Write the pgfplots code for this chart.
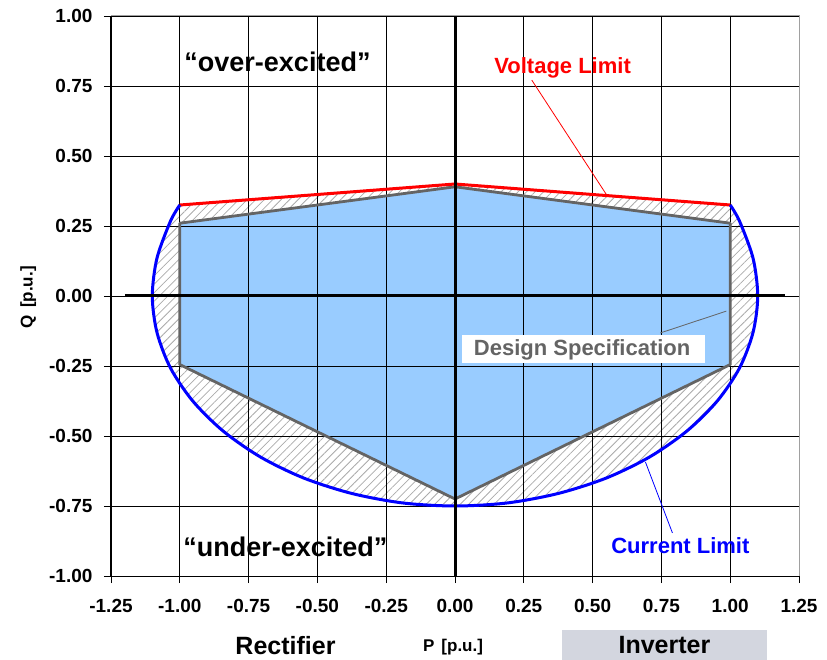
\documentclass[border=0pt]{standalone}
\usepackage{pgfplots}
\pgfplotsset{compat=1.18}
\usepackage{fontspec}
\setmainfont{Liberation Sans}
\usetikzlibrary{patterns.meta}
\definecolor{specfill}{HTML}{99CCFF}
\definecolor{specedge}{HTML}{646464}
\definecolor{hatchgray}{HTML}{AAAAAA}
\definecolor{invbox}{HTML}{D3D6DF}
\definecolor{limred}{HTML}{FF0000}
\definecolor{limblue}{HTML}{0000FF}
\definecolor{framegray}{HTML}{A0A0A0}

\begin{document}
\begin{tikzpicture}
\begin{axis}[
  at={(0,0)}, anchor=south west,
  set layers,
  scale only axis, width=688pt, height=560pt,
  xmin=-1.25, xmax=1.25, ymin=-1, ymax=1,
  axis x line=bottom, axis y line=left,
  axis line style={-, black, line width=1pt},
  xtick={-1.25,-1,-0.75,-0.5,-0.25,0,0.25,0.5,0.75,1,1.25},
  ytick={-1,-0.75,-0.5,-0.25,0,0.25,0.5,0.75,1},
  grid=major, major grid style={black, line width=0.9pt},
  tick align=outside, major tick length=7pt,
  tick style={black, line width=0.9pt},
  clip=false,
  ticklabel style={font=\fontsize{19}{19}\selectfont\bfseries},
  xticklabel style={yshift=-13pt},
  yticklabel style={xshift=-8pt},
  /pgf/number format/fixed, /pgf/number format/fixed zerofill,
  /pgf/number format/precision=2, /pgf/number format/assume math mode=true,
]

% hatched band between the limits and the design specification
\addplot[on layer=axis background, draw=none,
  pattern={Lines[angle=45,distance=6pt,line width=0.8pt]}, pattern color=hatchgray]
  coordinates {(-1,0.325) (0,0.40) (1,0.325) (1.034,0.267) (1.083,0.135) (1.1,0)
  (1.083,-0.130) (1.034,-0.257) (0.953,-0.375) (0.843,-0.482) (0.707,-0.575)
  (0.550,-0.650) (0.376,-0.705) (0.191,-0.739) (0,-0.75) (-0.191,-0.739)
  (-0.376,-0.705) (-0.550,-0.650) (-0.707,-0.575) (-0.843,-0.482) (-0.953,-0.375)
  (-1.034,-0.257) (-1.083,-0.130) (-1.1,0) (-1.083,0.135) (-1.034,0.267)} -- cycle;

% design specification area
\addplot[on layer=axis background, fill=specfill, draw=none]
  coordinates {(-1,0.26) (0,0.39) (1,0.26) (1,-0.245) (0,-0.725) (-1,-0.245)} -- cycle;
\addplot[specedge, line width=2.8pt, line join=round]
  coordinates {(-1,0.26) (0,0.39) (1,0.26) (1,-0.245) (0,-0.725) (-1,-0.245)} -- cycle;

% voltage limit
\addplot[limred, line width=3pt, line join=round]
  coordinates {(-1,0.325) (0,0.40) (1,0.325)};

% current limit
\addplot[limblue, line width=3pt, smooth, line join=round]
  coordinates {(1,0.325) (1.034,0.267) (1.083,0.135) (1.1,0)
  (1.083,-0.130) (1.034,-0.257) (0.953,-0.375) (0.843,-0.482) (0.707,-0.575)
  (0.550,-0.650) (0.376,-0.705) (0.191,-0.739) (0,-0.75) (-0.191,-0.739)
  (-0.376,-0.705) (-0.550,-0.650) (-0.707,-0.575) (-0.843,-0.482) (-0.953,-0.375)
  (-1.034,-0.257) (-1.083,-0.130) (-1.1,0) (-1.083,0.135) (-1.034,0.267) (-1,0.325)};

% frame on top and right
\draw[framegray, line width=1pt] (axis cs:-1.25,1) -- (axis cs:1.25,1) -- (axis cs:1.25,-1);

% P and Q axes through the origin
\draw[black, line width=3pt] (axis cs:-1.2,0) -- (axis cs:1.2,0);
\draw[black, line width=3pt] (axis cs:0,-1) -- (axis cs:0,1);

% annotations
\node[anchor=base, font=\fontsize{27}{27}\selectfont\bfseries] at (axis cs:-0.645,0.80) {“over-excited”};
\node[anchor=base, font=\fontsize{27}{27}\selectfont\bfseries] at (axis cs:-0.616,-0.932) {“under-excited”};

\draw[limred, line width=0.8pt] (axis cs:0.279,0.771) -- (axis cs:0.551,0.361);
\node[anchor=base, text=limred, font=\fontsize{22}{22}\selectfont\bfseries] at (axis cs:0.391,0.796) {Voltage Limit};

\draw[specedge, line width=0.8pt] (axis cs:0.746,-0.132) -- (axis cs:0.986,-0.054);
\fill[white] (axis cs:0.025,-0.139) rectangle (axis cs:0.909,-0.239);
\node[anchor=base, text=specedge, font=\fontsize{22}{22}\selectfont\bfseries] at (axis cs:0.462,-0.214) {Design Specification};

\draw[limblue, line width=0.8pt] (axis cs:0.79,-0.846) -- (axis cs:0.692,-0.593);
\node[anchor=base, text=limblue, font=\fontsize{22}{22}\selectfont\bfseries] at (axis cs:0.819,-0.918) {Current Limit};

% axis titles
\node[anchor=base, font=\fontsize{25}{25}\selectfont\bfseries] at (axis cs:-0.616,-1.279) {Rectifier};
\node[anchor=base, font=\fontsize{17}{17}\selectfont\bfseries] at (axis cs:-0.007,-1.271) {P\hspace{7pt}[p.u.]};
\fill[invbox] (axis cs:0.388,-1.193) rectangle (axis cs:1.134,-1.33);
\node[anchor=base, font=\fontsize{25}{25}\selectfont\bfseries] at (axis cs:0.761,-1.275) {Inverter};
\node[rotate=90, font=\fontsize{17}{17}\selectfont\bfseries] at (axis cs:-1.551,-0.004) {Q\hspace{7pt}[p.u.]};

\end{axis}
% page area: axis box sits 111pt from the left and 83pt from the bottom
\pgfresetboundingbox
\path[use as bounding box] (-111pt,-83pt) rectangle (716pt,576pt);
\end{tikzpicture}
\end{document}
